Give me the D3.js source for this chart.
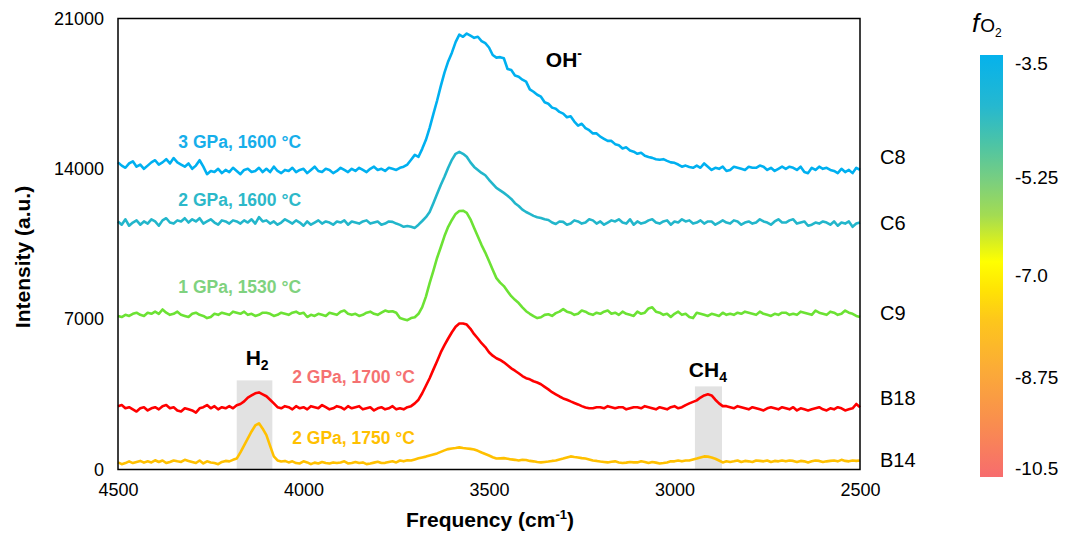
<!DOCTYPE html>
<html>
<head>
<meta charset="utf-8">
<script src="https://cdn.jsdelivr.net/npm/d3@7"></script>
<style>
  html, body { margin: 0; padding: 0; background: #fff; }
  svg { display: block; font-family: "Liberation Sans", Arial, sans-serif; }
</style>
</head>
<body>
<svg id="chart" width="1073" height="536"></svg>
<script>
// Raman shift grid (cm-1), high to low, 10 cm-1 steps
const freq = [
  4500,4490,4480,4470,4460,4450,4440,4430,4420,4410,4400,4390,4380,4370,4360,4350,4340,4330,4320,4310,
  4300,4290,4280,4270,4260,4250,4240,4230,4220,4210,4200,4190,4180,4170,4160,4150,4140,4130,4120,4110,
  4100,4090,4080,4070,4060,4050,4040,4030,4020,4010,4000,3990,3980,3970,3960,3950,3940,3930,3920,3910,
  3900,3890,3880,3870,3860,3850,3840,3830,3820,3810,3800,3790,3780,3770,3760,3750,3740,3730,3720,3710,
  3700,3690,3680,3670,3660,3650,3640,3630,3620,3610,3600,3590,3580,3570,3560,3550,3540,3530,3520,3510,
  3500,3490,3480,3470,3460,3450,3440,3430,3420,3410,3400,3390,3380,3370,3360,3350,3340,3330,3320,3310,
  3300,3290,3280,3270,3260,3250,3240,3230,3220,3210,3200,3190,3180,3170,3160,3150,3140,3130,3120,3110,
  3100,3090,3080,3070,3060,3050,3040,3030,3020,3010,3000,2990,2980,2970,2960,2950,2940,2930,2920,2910,
  2900,2890,2880,2870,2860,2850,2840,2830,2820,2810,2800,2790,2780,2770,2760,2750,2740,2730,2720,2710,
  2700,2690,2680,2670,2660,2650,2640,2630,2620,2610,2600,2590,2580,2570,2560,2550,2540,2530,2520,2510,
  2500
];

// Stacked spectra (a.u.)
const c8 = [
  14300,14150,14050,14250,14350,14100,14200,14000,14150,14300,14400,14200,14300,14450,14250,14500,14300,14200,14100,14250,
  14000,14150,14400,14100,13750,13900,13850,14000,13800,13950,13850,14050,13900,13750,13950,14000,13850,13900,14050,13850,
  14000,13850,14100,13900,13800,13950,13900,14050,13850,13950,14000,13800,13950,14100,13900,13850,14000,13950,13800,13900,
  14050,13950,13850,14000,13900,14050,13950,13850,14000,14100,13950,14000,13900,14050,14000,13950,14050,14100,14200,14420,
  14650,14560,14930,15350,15910,16550,17170,17850,18480,19000,19410,19900,20250,20150,20300,20200,20100,20150,19950,19850,
  19650,19300,19180,19200,19150,18650,18600,18350,18290,18150,18060,17700,17590,17450,17360,17100,17030,16850,16800,16650,
  16570,16400,16450,16200,16010,16100,15900,15800,15650,15650,15500,15400,15300,15300,15150,15100,14950,15000,14850,14800,
  14700,14750,14610,14550,14510,14450,14420,14450,14370,14300,14280,14200,14100,14150,14090,14050,14150,14050,14250,14100,
  13950,14050,14000,14100,13900,13950,14100,14050,14000,13950,14100,14050,14050,14150,14100,13950,14050,13900,14000,14100,
  14000,14100,14050,13950,14100,13850,13800,14050,13950,14100,14000,14050,13950,13900,13800,14000,13850,13950,13800,14050,
  13950
];
const c6 = [
  11550,11400,11650,11350,11500,11600,11400,11550,11450,11650,11550,11350,11600,11700,11500,11450,11600,11550,11700,11500,
  11650,11550,11700,11450,11550,11650,11500,11400,11600,11550,11450,11600,11550,11450,11600,11500,11650,11450,11750,11550,
  11600,11450,11550,11400,11500,11650,11550,11450,11600,11500,11350,11550,11400,11500,11600,11450,11550,11500,11400,11550,
  11500,11600,11400,11550,11500,11450,11550,11600,11450,11500,11550,11400,11450,11550,11530,11450,11390,11300,11340,11300,
  11250,11400,11570,11750,11990,12400,12830,13250,13630,14050,14420,14700,14790,14700,14560,14300,14090,13950,13810,13700,
  13490,13300,13110,13000,12880,12750,12600,12400,12270,12100,11990,11900,11810,11750,11710,11650,11620,11500,11430,11550,
  11530,11400,11450,11600,11550,11450,11500,11650,11600,11450,11550,11400,11500,11600,11550,11650,11500,11450,11650,11400,
  11550,11450,11500,11600,11650,11500,11450,11550,11600,11400,11550,11500,11650,11550,11600,11450,11500,11600,11450,11550,
  11550,11400,11500,11600,11500,11450,11600,11550,11400,11500,11550,11450,11500,11650,11550,11500,11400,11550,11650,11500,
  11500,11600,11650,11450,11500,11550,11350,11400,11500,11450,11550,11500,11400,11550,11350,11500,11450,11550,11300,11450,
  11500
];
const c9 = [
  7150,7100,7200,7150,7250,7300,7200,7150,7300,7250,7350,7250,7450,7300,7200,7250,7350,7200,7150,7100,
  7250,7300,7200,7150,7050,7100,7250,7200,7300,7250,7200,7350,7300,7250,7350,7200,7250,7150,7200,7300,
  7300,7250,7150,7200,7300,7250,7200,7300,7350,7250,7300,7100,7200,7150,7250,7200,7150,7300,7250,7200,
  7350,7400,7250,7200,7250,7150,7200,7300,7350,7250,7200,7300,7400,7350,7370,7300,7050,7000,6950,7050,
  7090,7250,7560,8050,8680,9250,9850,10350,10870,11300,11620,11900,12040,12050,11950,11650,11250,10850,10450,10100,
  9710,9300,8910,8700,8540,8300,8070,7900,7750,7550,7370,7250,7140,7050,7090,7200,7230,7150,7280,7350,
  7470,7350,7300,7200,7250,7400,7350,7250,7200,7300,7250,7350,7400,7250,7300,7200,7350,7250,7200,7150,
  7350,7250,7300,7500,7550,7350,7300,7200,7250,7100,7250,7350,7200,7250,7100,7050,7300,7250,7200,7150,
  7250,7200,7150,7300,7200,7250,7200,7300,7250,7350,7300,7250,7200,7350,7250,7200,7150,7250,7200,7300,
  7300,7200,7250,7200,7350,7300,7250,7200,7400,7300,7250,7200,7350,7300,7200,7250,7400,7300,7250,7150,
  7100
];
const b18 = [
  2950,3000,2850,2900,2800,2700,2850,2900,2750,2850,2900,2800,2950,3000,2850,2900,2750,2700,2850,2800,
  2750,2650,2850,2900,3000,2850,2950,2800,2900,2850,2950,2850,2990,3050,3170,3350,3450,3550,3590,3500,
  3410,3250,3080,2900,2850,2950,2900,2800,2950,2850,2900,2800,2950,2900,2850,3000,2900,2800,2850,2950,
  2900,2800,2950,2850,2900,2950,2800,2850,2900,2750,2850,2900,2800,2850,2950,2800,2850,2800,2900,2950,
  3080,3250,3550,3900,4250,4650,5040,5450,5790,6100,6390,6650,6800,6800,6750,6550,6300,6100,5880,5700,
  5460,5300,5180,5100,4990,4850,4710,4600,4480,4350,4250,4200,4110,4050,3970,3850,3730,3600,3500,3400,
  3310,3250,3170,3100,3030,2950,2890,2850,2850,2900,2900,2850,2950,2900,2850,2900,2900,2800,2850,2900,
  2900,2850,2950,2900,2850,2800,2900,2850,2800,2900,2950,2850,2900,3000,3080,3150,3220,3350,3450,3500,
  3450,3250,3080,2950,2950,2900,2850,2950,2900,2850,2800,2900,2850,2800,2750,2850,2900,2850,2800,2900,
  2850,2800,2900,2750,2850,2800,2750,2800,2850,2900,2800,2750,2850,2800,2900,2850,2750,2800,2850,3050,
  2900
];
const b14 = [
  330,250,300,380,300,350,400,320,380,330,430,350,420,300,350,420,380,350,450,400,
  350,300,420,280,380,330,300,250,350,400,380,450,510,800,1120,1450,1770,2050,2150,1900,
  1600,1100,610,420,370,400,330,380,300,280,380,330,250,320,280,350,300,280,330,300,
  330,380,280,300,350,300,330,250,280,320,360,300,310,350,380,330,420,380,430,420,
  470,520,560,600,650,700,750,820,890,950,980,1000,1030,1000,980,960,930,870,790,720,
  650,570,510,520,530,500,470,450,420,450,440,400,380,350,330,350,370,400,420,470,
  510,560,610,580,560,530,510,470,420,400,370,350,330,360,380,330,300,320,350,330,
  330,380,350,300,350,320,280,300,330,380,380,420,380,420,420,470,510,560,610,600,
  560,500,420,330,380,350,380,420,350,400,380,350,420,400,380,420,350,400,380,420,
  380,420,400,350,400,380,330,380,420,400,350,380,400,420,380,450,400,380,420,400,
  420
];

const samples    = ["C8", "C6", "C9", "B18", "B14"];
const conditions = ["3 GPa, 1600 °C", "2 GPa, 1600 °C", "1 GPa, 1530 °C", "2 GPa, 1700 °C", "2 GPa, 1750 °C"];
const spectra    = [c8, c6, c9, b18, b14];
const lineColors = ["#00b0f0", "#22b6cb", "#6ce234", "#ff0000", "#ffc000"];
const textColors = ["#16aeea", "#2cb8c9", "#7fd27f", "#f57171", "#ffc000"];

// Label anchors in data units
const condFreq    = [4172, 4172, 4172, 3865, 3865];
const condValue   = [14980, 12270, 8210, 4010, 1170];
const sampleValue = [14560, 11480, 7280, 3310, 420];

// Shaded gas bands
const bandFrom = [4180, 2945];
const bandTo   = [4084, 2872];
const bandTop  = [4150, 3870];

// Peak assignments
const peakMain  = ["OH", "H", "CH"];
const peakSub   = ["-", "2", "4"];
const peakSup   = [true, false, false];
const peakFreq  = [3298, 4125, 2910];
const peakValue = [18760, 4850, 4290];

const xTicks = [4500, 4000, 3500, 3000, 2500];
const yTicks = [0, 7000, 14000, 21000];

// fO2 colour bar
const fo2Ticks  = [-3.5, -5.25, -7.0, -8.75, -10.5];
const fo2Labels = ["-3.5", "-5.25", "-7.0", "-8.75", "-10.5"];
const fo2Stops  = [
  [0.00, "#05b2ec"], [0.12, "#25b8d0"], [0.21, "#4cc4a6"], [0.30, "#7bcf7e"],
  [0.38, "#a3dc52"], [0.44, "#d6ee22"], [0.49, "#ffff00"], [0.56, "#ffe205"],
  [0.63, "#fdc61c"], [0.75, "#fbaa38"], [0.87, "#f98e4e"], [1.00, "#f76c6e"]
];

const svg = d3.select("#chart");
const plot = { left: 118, right: 860, top: 18.5, bottom: 469.5 };

const x = d3.scaleLinear().domain([4500, 2500]).range([plot.left, plot.right]);
const y = d3.scaleLinear().domain([0, 21000]).range([plot.bottom, plot.top]);

// gas bands behind the spectra
svg.append("g").selectAll("rect")
  .data(bandFrom.map((f, i) => ({ f0: f, f1: bandTo[i], top: bandTop[i] })))
  .join("rect")
  .attr("x", d => x(d.f0))
  .attr("width", d => x(d.f1) - x(d.f0))
  .attr("y", d => y(d.top))
  .attr("height", d => y(0) - y(d.top))
  .attr("fill", "#e2e2e2");

// spectra
const line = d3.line().x((d, i) => x(freq[i])).y(d => y(d));
svg.append("g").selectAll("path")
  .data(spectra.map((s, i) => ({ s, i })).reverse())
  .join("path")
  .attr("d", d => line(d.s))
  .attr("fill", "none")
  .attr("stroke", d => lineColors[d.i])
  .attr("stroke-width", 2.6)
  .attr("stroke-linejoin", "round");

// frame
svg.append("rect")
  .attr("x", plot.left).attr("y", plot.top)
  .attr("width", plot.right - plot.left).attr("height", plot.bottom - plot.top)
  .attr("fill", "none").attr("stroke", "#000").attr("stroke-width", 1.5);

// axes (labels only, no tick marks)
const xAxis = d3.axisBottom(x).tickValues(xTicks).tickSize(0).tickPadding(14).tickFormat(d3.format("d"));
const gx = svg.append("g").attr("transform", `translate(0,${plot.bottom})`).call(xAxis);
gx.select(".domain").remove();
gx.selectAll("text").attr("font-size", 18).attr("fill", "#000").attr("font-family", "Liberation Sans, Arial, sans-serif");

const yAxis = d3.axisLeft(y).tickValues(yTicks).tickSize(0).tickPadding(14).tickFormat(d3.format("d"));
const gy = svg.append("g").attr("transform", `translate(${plot.left},0)`).call(yAxis);
gy.select(".domain").remove();
gy.selectAll("text").attr("font-size", 18).attr("fill", "#000").attr("font-family", "Liberation Sans, Arial, sans-serif");

// axis titles
const xt = svg.append("text")
  .attr("x", (plot.left + plot.right) / 2 + 1).attr("y", 527)
  .attr("text-anchor", "middle").attr("font-weight", "bold").attr("font-size", 21);
xt.append("tspan").text("Frequency (cm");
xt.append("tspan").text("-1").attr("font-size", 13).attr("dy", -8);
xt.append("tspan").text(")").attr("dy", 8);

svg.append("text")
  .attr("transform", `translate(30,${(plot.top + plot.bottom) / 2 + 13}) rotate(-90)`)
  .attr("text-anchor", "middle").attr("font-weight", "bold").attr("font-size", 21)
  .text("Intensity (a.u.)");

// condition labels
svg.append("g").selectAll("text")
  .data(conditions)
  .join("text")
  .attr("x", (d, i) => x(condFreq[i]))
  .attr("y", (d, i) => y(condValue[i]))
  .attr("text-anchor", "middle")
  .attr("font-weight", "bold").attr("font-size", 17.5)
  .attr("fill", (d, i) => textColors[i])
  .text(d => d);

// sample names at right
svg.append("g").selectAll("text")
  .data(samples)
  .join("text")
  .attr("x", plot.right + 20)
  .attr("y", (d, i) => y(sampleValue[i]))
  .attr("dy", "0.35em")
  .attr("font-size", 20).attr("fill", "#000")
  .text(d => d);

// peak assignments
peakMain.forEach((m, i) => {
  const t = svg.append("text")
    .attr("x", x(peakFreq[i])).attr("y", y(peakValue[i]))
    .attr("text-anchor", "middle").attr("font-weight", "bold").attr("font-size", 21);
  t.append("tspan").text(m);
  t.append("tspan").text(peakSub[i])
    .attr("font-size", 14)
    .attr("dy", peakSup[i] ? -9 : 5);
});

// fO2 colour bar
const bar = { x: 980, y: 55, w: 23, h: 422 };
const grad = svg.append("defs").append("linearGradient")
  .attr("id", "fo2grad").attr("x1", 0).attr("y1", 0).attr("x2", 0).attr("y2", 1);
grad.selectAll("stop").data(fo2Stops).join("stop")
  .attr("offset", d => d[0]).attr("stop-color", d => d[1]);
svg.append("rect")
  .attr("x", bar.x).attr("y", bar.y).attr("width", bar.w).attr("height", bar.h)
  .attr("fill", "url(#fo2grad)");

const fo2Scale = d3.scaleLinear()
  .domain(fo2Ticks)
  .range([0.019, 0.289, 0.521, 0.763, 0.979].map(f => bar.y + f * bar.h));
svg.append("g").selectAll("text")
  .data(fo2Ticks)
  .join("text")
  .attr("x", bar.x + bar.w + 12)
  .attr("y", d => fo2Scale(d))
  .attr("dy", "0.35em")
  .attr("font-size", 19).attr("fill", "#000")
  .text((d, i) => fo2Labels[i]);

const ft = svg.append("text").attr("x", 972).attr("y", 32);
ft.append("tspan").text("f").attr("font-style", "italic").attr("font-size", 26);
ft.append("tspan").text("O").attr("font-size", 19).attr("dx", 1);
ft.append("tspan").text("2").attr("font-size", 12).attr("dy", 5);
</script>
</body>
</html>
